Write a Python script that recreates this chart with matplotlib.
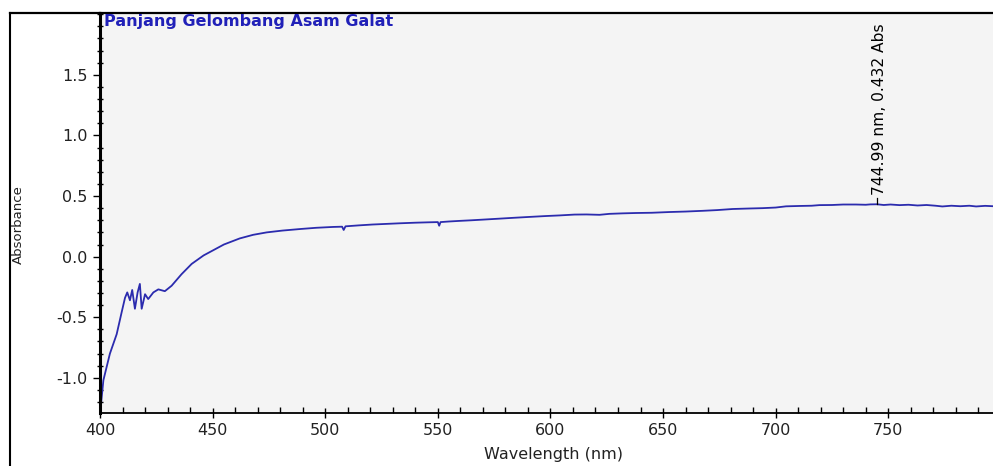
import numpy as np
from matplotlib import pyplot as plt
from matplotlib.lines import Line2D
from matplotlib.ticker import MultipleLocator

plt.rcParams['font.family'] = ['DejaVu Sans']
plt.rcParams['axes.unicode_minus'] = False

# spectrum (nm, Abs)
wavelength = [400, 401.5, 404.4, 407.4, 409.6, 411.1, 412.1, 413.3, 414.3, 415.5,
              416.7, 417.7, 418.5, 420, 421.4, 423.7, 425.9, 428.8, 431.8, 436.2,
              440.7, 446, 451, 455, 462, 468, 474, 481, 489, 496,
              503.5, 507.5, 508.2, 509, 515, 521, 527, 533, 540, 545.6,
              550, 550.6, 551.2, 555, 559.7, 565, 571.5, 577, 583.3, 590,
              598, 604, 610.7, 616, 621.8, 626.2, 632, 638, 645, 652.8,
              660, 667.6, 674, 680.9, 688, 694.2, 700, 704.6, 710.5, 716,
              719.4, 725, 730, 735.6, 740, 742, 745, 748, 751, 755,
              759, 763, 767, 771, 774, 778, 782, 786, 789, 793, 796.5]
absorbance = [-1.30, -1.02, -0.80, -0.64, -0.46, -0.34, -0.295, -0.36, -0.275, -0.43,
              -0.295, -0.225, -0.43, -0.31, -0.35, -0.295, -0.27, -0.285, -0.24, -0.145,
              -0.06, 0.01, 0.06, 0.10, 0.15, 0.18, 0.20, 0.215, 0.228, 0.238,
              0.245, 0.247, 0.22, 0.25, 0.258, 0.265, 0.27, 0.275, 0.28, 0.283,
              0.285, 0.255, 0.285, 0.29, 0.295, 0.30, 0.307, 0.313, 0.32, 0.327,
              0.335, 0.34, 0.347, 0.348, 0.345, 0.353, 0.357, 0.36, 0.362, 0.368,
              0.372, 0.378, 0.384, 0.393, 0.397, 0.40, 0.405, 0.415, 0.418, 0.42,
              0.425, 0.426, 0.43, 0.43, 0.428, 0.431, 0.432, 0.426, 0.43, 0.425,
              0.428, 0.422, 0.426, 0.42, 0.414, 0.42, 0.416, 0.42, 0.414, 0.419, 0.416]

peak_nm = 744.99
peak_abs = 0.432
title = "Panjang Gelombang Asam Galat"

fig = plt.figure(figsize=(9.93, 4.66), dpi=100)
W, H = 993, 466
ax = fig.add_axes([100 / W, (H - 413) / H, (W - 100) / W, 400 / H])
ax.set_facecolor('#f4f4f4')

ax.plot(wavelength, absorbance, color='#2b2bae', lw=1.3)

# peak marker
ax.plot([peak_nm, peak_nm], [peak_abs + 0.005, peak_abs + 0.05], color='black', lw=0.9)
ax.text(peak_nm + 1, peak_abs + 0.075, "%.2f nm, %.3f Abs" % (peak_nm, peak_abs),
        rotation=90, ha='center', va='bottom', fontsize=11.2, color='black')

ax.text(4 / 893, 0.997, title, transform=ax.transAxes, ha='left', va='top',
        fontsize=11.5, fontweight='bold', color='#2020b8')

ax.set_xlim(400, 796.5)
ax.set_ylim(-1.29, 2.01)
ax.set_yticks(np.arange(-1.0, 1.51, 0.5))
ax.set_yticklabels(["%.1f" % v for v in np.arange(-1.0, 1.51, 0.5)])
ax.xaxis.set_major_locator(MultipleLocator(50))
ax.xaxis.set_minor_locator(MultipleLocator(10))
ax.yaxis.set_minor_locator(MultipleLocator(0.1))

ax.tick_params(axis='both', which='major', labelsize=11.5, labelcolor='#222222')
ax.tick_params(axis='x', which='major', direction='inout', length=7, width=1, pad=4)
ax.tick_params(axis='x', which='minor', direction='in', length=4, width=1)
ax.tick_params(axis='y', which='major', direction='out', length=5, width=1, pad=4)
ax.tick_params(axis='y', which='minor', direction='inout', length=4, width=1)

ax.spines['right'].set_visible(False)
ax.spines['left'].set_linewidth(2.2)
ax.spines['bottom'].set_linewidth(1.3)
ax.spines['top'].set_linewidth(1.6)

ax.set_xlabel("Wavelength (nm)", fontsize=11.5, color='#222222', va='center')
ax.xaxis.set_label_coords((553 - 100) / 893, -(455 - 413) / 400)
ax.set_ylabel("Absorbance", fontsize=9.5, color='#222222', va='center')
ax.yaxis.set_label_coords(-(100 - 18) / 893, (413 - 225) / 400)

# outer frame line on the left
fig.add_artist(Line2D([9.5 / W, 9.5 / W], [0, (H - 13) / H], color='black', lw=1.5))
fig.add_artist(Line2D([9.5 / W, 100 / W], [(H - 13) / H, (H - 13) / H], color='black', lw=1.6))

plt.savefig('out.png', dpi=100)
